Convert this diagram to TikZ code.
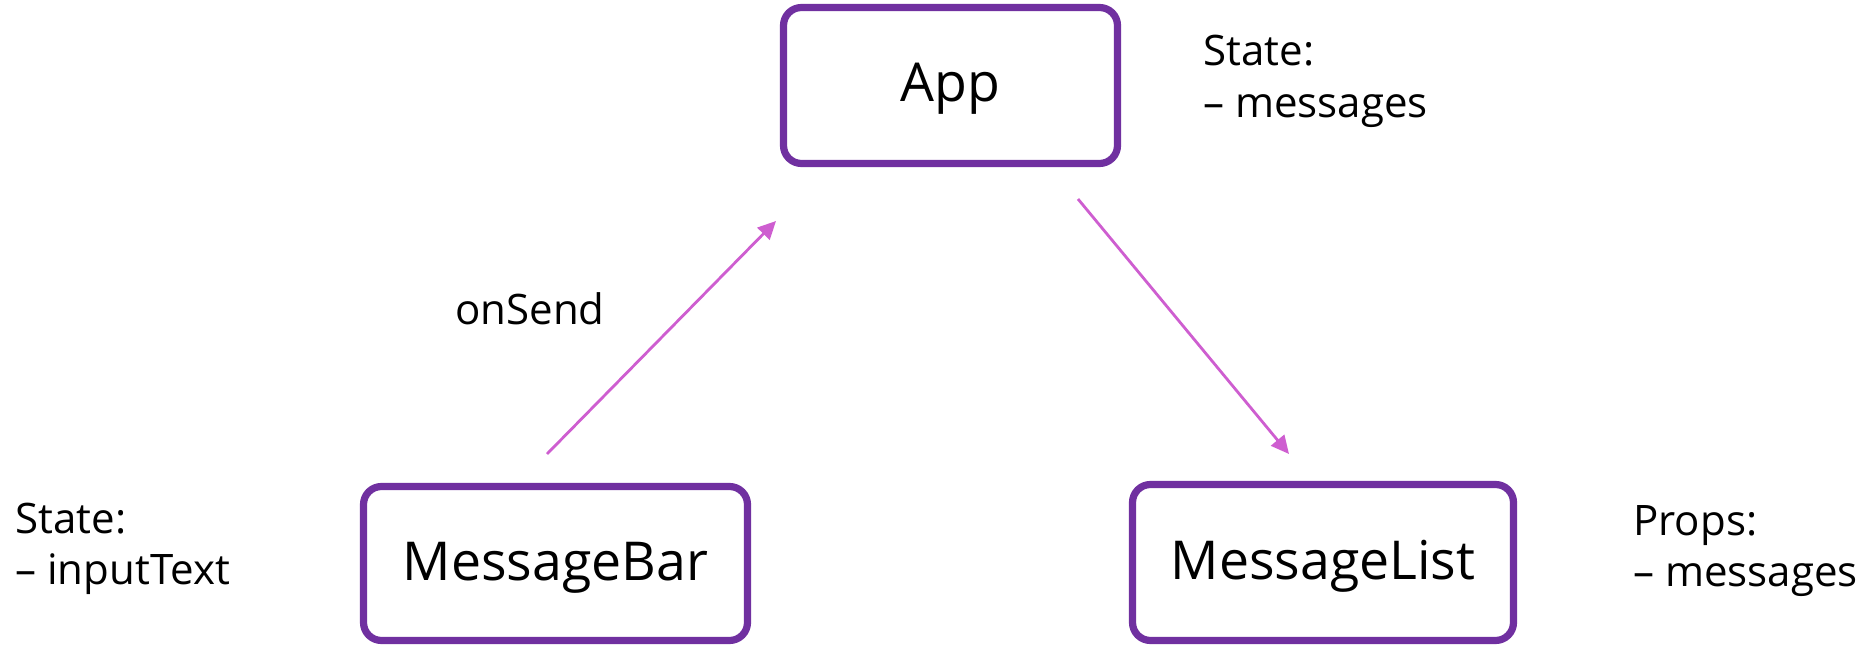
\documentclass[tikz,border=0pt]{standalone}
\usepackage{fontspec}
\setmainfont{Open Sans}
\usetikzlibrary{arrows.meta}
\definecolor{boxpurple}{RGB}{112,48,160}
\definecolor{arrowpink}{RGB}{206,94,208}
\begin{document}
\begin{tikzpicture}[x=0.5pt,y=-0.5pt,
  comp/.style={draw=boxpurple, line width=3.6pt, rounded corners=9pt, fill=white,
    font=\fontsize{26.8}{32}\selectfont, text height=20pt, text depth=3.5pt, inner sep=0pt},
  note/.style={anchor=base west, inner sep=0pt, font=\fontsize{21}{25}\selectfont},
  flow/.style={draw=arrowpink, line width=1.4pt, -{Triangle[length=9pt,width=8.5pt]}}]
\useasboundingbox (0,0) rectangle (1869,646);
\node[comp, minimum width=167pt, minimum height=78pt] (app) at (950.5,85.5) {App};
\node[comp, minimum width=192pt, minimum height=77pt] (bar) at (555.5,563.5) {MessageBar};
\node[comp, minimum width=190.5pt, minimum height=78pt] (list) at (1323,562.5) {MessageList};
\node[note] (appstate) at (1203,66) {State:};
\node[note] (appstatei) at (1203,118) {– messages};
\node[note] (barstate) at (15,533) {State:};
\node[note] (barstatei) at (15,584) {– inputText};
\node[note] (listprops) at (1633,535) {Props:};
\node[note] (listpropsi) at (1633,586) {– messages};
\node[note] (onsend) at (455,325) {onSend};
\coordinate (a1s) at (547,454);
\coordinate (a1e) at (776,221);
\coordinate (a2s) at (1078,199);
\coordinate (a2e) at (1289,454);
\draw[flow] (a1s) -- (a1e);
\draw[flow] (a2s) -- (a2e);
\end{tikzpicture}
\end{document}
